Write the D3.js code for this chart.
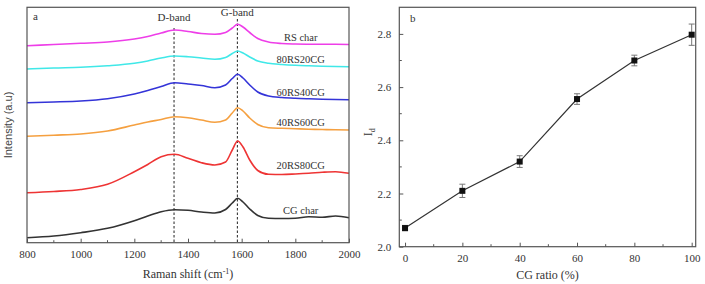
<!DOCTYPE html>
<html><head><meta charset="utf-8">
<script src="https://cdn.jsdelivr.net/npm/d3@7"></script>
<style>body{margin:0;background:#fff}svg{display:block}</style>
</head><body>
<svg id="c" width="705" height="284"></svg>
<script>
// ---- Panel a data ----
const ramanShift = [800,900,1000,1100,1200,1250,1300,1350,1400,1450,1500,1540,1565,1585,1605,1630,1660,1700,1750,1800,1850,1900,1950,2000];
const seriesNames = ["RS char","80RS20CG","60RS40CG","40RS60CG","20RS80CG","CG char"];
const rsChar   = [197,198.2,199.4,200.7,203.7,206.2,209.7,212.7,211.2,209.2,208.4,210.2,214.7,218.4,215.7,210.2,204.2,200.7,199.2,198.7,198.5,198.4,198.4,198.2];
const rs80cg20 = [173.7,174.7,175.4,176.9,179.4,181.7,184.7,186.7,186,184.7,183.4,185.2,189.2,191.7,189.7,185.7,181.7,179.4,178.2,177.4,176.9,176.5,176.2,176];
const rs60cg40 = [140,140.7,141.7,144,148.7,152.2,156.2,160,158.7,157.2,155,157.7,164.2,168.4,164.7,157.7,150.7,146.7,145.2,144.4,143.9,143.5,143.2,143];
const rs40cg60 = [106.4,107.5,108.7,111.7,117.7,120.7,123.2,126,125,122.7,120.4,122.7,129.7,135,131.7,124.7,118.2,115,114.4,114,113.5,113.2,112.9,112.7];
const rs20cg80 = [50,51.2,53.2,58.4,71,78.2,86,88.4,84.4,80,77.7,80.7,92.7,101.7,95.7,82.7,72.2,68.4,68.2,68.7,69.4,70.4,71,69.4];
const cgChar   = [5,6.7,10,14.4,22,26.7,31,33,32.4,30.7,29.7,33.2,39.7,44.4,40.7,33.7,27.2,24.4,24.2,24.4,26,25.4,26.7,25];
const seriesColors = ["#ee3ee8","#40e8e8","#3434d8","#f5a040","#ee3434","#333333"];
const bandNames = ["D-band","G-band"];
const bandPositions = [1348,1584];
const xTicksA = [800,1000,1200,1400,1600,1800,2000];

// ---- Panel b data ----
const cgRatio = [0,20,40,60,80,100];
const idValues = [2.07,2.21,2.32,2.555,2.70,2.797];
const idErrors = [0.01,0.025,0.022,0.02,0.02,0.04];
const xTicksB = [0,20,40,60,80,100];
const yTicksB = [2.0,2.2,2.4,2.6,2.8];

const svg = d3.select("#c");
const serif = "'Liberation Serif','Times New Roman',serif";
const frameColor = "#555";

// ===== Panel a =====
const A = {l:27, r:349, t:7.3, b:242.7};
const xa = d3.scaleLinear().domain([800,2000]).range([A.l,A.r]);
const ya = d3.scaleLinear().domain([0,235.4]).range([A.b,A.t]);
const ga = svg.append("g");

const allSeries = [rsChar,rs80cg20,rs60cg40,rs40cg60,rs20cg80,cgChar];
const line = d3.line().x((d,i)=>xa(ramanShift[i])).y(d=>ya(d)).curve(d3.curveMonotoneX);

// dashed band lines
bandPositions.forEach((bp,i)=>{
  ga.append("line").attr("x1",xa(bp)).attr("x2",xa(bp))
    .attr("y1", i===0?28:19).attr("y2",A.b)
    .attr("stroke","#222").attr("stroke-width",1).attr("stroke-dasharray","2.5,2");
  ga.append("text").attr("x",xa(bp)).attr("y", i===0?21:16)
    .attr("text-anchor","middle").attr("font-family",serif).attr("font-size",11).attr("fill","#333")
    .text(bandNames[i]);
});

allSeries.forEach((s,k)=>{
  ga.append("path").attr("d",line(s)).attr("fill","none")
    .attr("stroke",seriesColors[k]).attr("stroke-width",1.6);
  ga.append("text").attr("x",xa(1820)).attr("y",ya(s[s.length-1])-4)
    .attr("text-anchor","middle").attr("font-family",serif).attr("font-size",10.5).attr("fill","#333")
    .text(seriesNames[k]);
});

// frame
ga.append("rect").attr("x",A.l).attr("y",A.t).attr("width",A.r-A.l).attr("height",A.b-A.t)
  .attr("fill","none").attr("stroke",frameColor).attr("stroke-width",1.2);

// x axis a
const axA = d3.axisBottom(xa).tickValues(xTicksA).tickSize(-4).tickPadding(8).tickFormat(d3.format("d"));
const gxa = ga.append("g").attr("transform",`translate(0,${A.b})`).call(axA);
gxa.select(".domain").remove();
gxa.selectAll(".tick line").attr("stroke",frameColor);
gxa.selectAll("text").attr("font-family",serif).attr("font-size",11).attr("fill","#333");
const minorA = d3.range(900,2000,200);
ga.append("g").selectAll("line").data(minorA).join("line")
  .attr("x1",d=>xa(d)).attr("x2",d=>xa(d)).attr("y1",A.b).attr("y2",A.b-2.5).attr("stroke",frameColor);

ga.append("text").attr("x",(A.l+A.r)/2).attr("y",278).attr("text-anchor","middle")
  .attr("font-family",serif).attr("font-size",12).attr("fill","#333")
  .html("Raman shift (cm<tspan dy='-4' font-size='8'>-1</tspan><tspan dy='4'>)</tspan>");
ga.append("text").attr("transform",`translate(12,${(A.t+A.b)/2}) rotate(-90)`)
  .attr("text-anchor","middle").attr("font-family","'Liberation Sans',Arial,sans-serif")
  .attr("font-size",11).attr("fill","#444").text("Intensity (a.u)");
ga.append("text").attr("x",33).attr("y",20).attr("font-family",serif).attr("font-size",11).attr("fill","#333").text("a");

// ===== Panel b =====
const B = {l:399.3, r:695.7, t:7.3, b:246.7};
const xb = d3.scaleLinear().domain([-2,101.4]).range([B.l,B.r]);
const yb = d3.scaleLinear().domain([2.0,2.9]).range([B.b,B.t]);
const gb = svg.append("g");

gb.append("rect").attr("x",B.l).attr("y",B.t).attr("width",B.r-B.l).attr("height",B.b-B.t)
  .attr("fill","none").attr("stroke",frameColor).attr("stroke-width",1.2);

const axBx = d3.axisBottom(xb).tickValues(xTicksB).tickSize(-4).tickPadding(8).tickFormat(d3.format("d"));
const gxb = gb.append("g").attr("transform",`translate(0,${B.b})`).call(axBx);
gxb.select(".domain").remove();
gxb.selectAll(".tick line").attr("stroke",frameColor);
gxb.selectAll("text").attr("font-family",serif).attr("font-size",11).attr("fill","#333");
gb.append("g").selectAll("line").data(d3.range(10,100,20)).join("line")
  .attr("x1",d=>xb(d)).attr("x2",d=>xb(d)).attr("y1",B.b).attr("y2",B.b-2.5).attr("stroke",frameColor);

const axBy = d3.axisLeft(yb).tickValues(yTicksB).tickSize(-4).tickPadding(8).tickFormat(d3.format(".1f"));
const gyb = gb.append("g").attr("transform",`translate(${B.l},0)`).call(axBy);
gyb.select(".domain").remove();
gyb.selectAll(".tick line").attr("stroke",frameColor);
gyb.selectAll("text").attr("font-family",serif).attr("font-size",11).attr("fill","#333");
gb.append("g").selectAll("line").data([2.1,2.3,2.5,2.7]).join("line")
  .attr("x1",B.l).attr("x2",B.l+2.5).attr("y1",d=>yb(d)).attr("y2",d=>yb(d)).attr("stroke",frameColor);

// line
gb.append("path").datum(idValues)
  .attr("d",d3.line().x((d,i)=>xb(cgRatio[i])).y(d=>yb(d)))
  .attr("fill","none").attr("stroke","#333").attr("stroke-width",1.2);
// error bars
const eg = gb.append("g").attr("stroke","#777").attr("stroke-width",1);
idValues.forEach((v,i)=>{
  const x = xb(cgRatio[i]);
  eg.append("line").attr("x1",x).attr("x2",x).attr("y1",yb(v-idErrors[i])).attr("y2",yb(v+idErrors[i]));
  [v-idErrors[i], v+idErrors[i]].forEach(e=>{
    eg.append("line").attr("x1",x-3).attr("x2",x+3).attr("y1",yb(e)).attr("y2",yb(e));
  });
});
gb.append("g").selectAll("rect").data(idValues).join("rect")
  .attr("x",(d,i)=>xb(cgRatio[i])-3).attr("y",d=>yb(d)-3).attr("width",6).attr("height",6).attr("fill","#111");

gb.append("text").attr("x",(B.l+B.r)/2).attr("y",279).attr("text-anchor","middle")
  .attr("font-family",serif).attr("font-size",12).attr("fill","#333").text("CG ratio (%)");
gb.append("text").attr("transform",`translate(372,${yb(2.43)}) rotate(-90)`)
  .attr("text-anchor","middle").attr("font-family",serif).attr("font-size",12).attr("fill","#333")
  .html("I<tspan dy='3' font-size='8'>d</tspan>");
gb.append("text").attr("x",410).attr("y",22).attr("font-family",serif).attr("font-size",11).attr("fill","#333").text("b");
</script>
</body></html>
